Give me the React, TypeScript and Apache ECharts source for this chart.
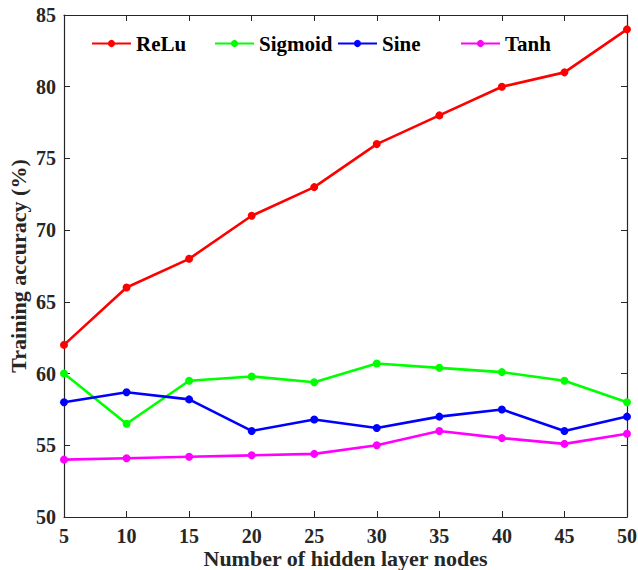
import React, { useEffect, useRef } from "react";
import * as echarts from "echarts";

const nodes = [5, 10, 15, 20, 25, 30, 35, 40, 45, 50];
const relu = [62, 66, 68, 71, 73, 76, 78, 80, 81, 84];
const sigmoid = [60, 56.5, 59.5, 59.8, 59.4, 60.7, 60.4, 60.1, 59.5, 58];
const sine = [58, 58.7, 58.2, 56, 56.8, 56.2, 57, 57.5, 56, 57];
const tanh = [54, 54.1, 54.2, 54.3, 54.4, 55, 56, 55.5, 55.1, 55.8];

const seriesNames = ["ReLu", "Sigmoid", "Sine", "Tanh"];
const seriesData = [relu, sigmoid, sine, tanh];
const seriesColors = ["#ff0000", "#00ff00", "#0000ff", "#ff00ff"];
const legendLefts = [86, 209, 332, 455];

const FONT = "'Liberation Serif', 'Times New Roman', serif";
const AX = "#262626";

export default function App() {
  const ref = useRef<HTMLDivElement>(null);
  useEffect(() => {
    document.body.style.margin = "0";
    if (!ref.current) return;
    const chart = echarts.init(ref.current, undefined, { renderer: "svg" });
    const axisCommon = {
      axisLine: { show: true, onZero: false, lineStyle: { color: AX, width: 1.2 } },
      axisTick: { show: true, inside: true, length: 6, lineStyle: { color: AX } },
      splitLine: { show: false },
    };
    chart.setOption({
      animation: false,
      backgroundColor: "#ffffff",
      grid: { left: 64, right: 11, top: 15, bottom: 53, containLabel: false, outerBoundsMode: "none" },
      legend: seriesNames.map((n, i) => ({
        data: [n],
        left: legendLefts[i],
        top: 28,
        itemWidth: 39,
        itemHeight: 9,
        itemGap: 3,
        textStyle: { fontFamily: FONT, fontWeight: "bold", fontSize: 21, color: "#000" },
      })),
      xAxis: [
        {
          type: "value",
          min: 5,
          max: 50,
          interval: 5,
          ...axisCommon,
          axisLabel: { fontFamily: FONT, fontWeight: "bold", fontSize: 20, color: AX, margin: 9 },
          name: "Number of hidden layer nodes",
          nameLocation: "middle",
          nameGap: 30,
          nameMoveOverlap: false,
          nameTextStyle: { fontFamily: FONT, fontWeight: "bold", fontSize: 22, color: AX },
        },
        {
          type: "value",
          position: "top",
          min: 5,
          max: 50,
          interval: 5,
          ...axisCommon,
          axisLabel: { show: false },
        },
      ],
      yAxis: [
        {
          type: "value",
          min: 50,
          max: 85,
          interval: 5,
          ...axisCommon,
          axisLabel: { fontFamily: FONT, fontWeight: "bold", fontSize: 20, color: AX, margin: 8 },
          name: "Training accuracy (%)",
          nameLocation: "middle",
          nameGap: 35,
          nameMoveOverlap: false,
          nameTextStyle: { fontFamily: FONT, fontWeight: "bold", fontSize: 22, color: AX },
        },
        {
          type: "value",
          position: "right",
          min: 50,
          max: 85,
          interval: 5,
          ...axisCommon,
          axisLabel: { show: false },
        },
      ],
      series: seriesNames.map((n, i) => ({
        name: n,
        type: "line",
        data: nodes.map((x, j) => [x, seriesData[i][j]]),
        symbol: "circle",
        symbolSize: 8,
        lineStyle: { color: seriesColors[i], width: 2.6 },
        itemStyle: { color: seriesColors[i] },
      })),
    });
    return () => chart.dispose();
  }, []);
  return <div ref={ref} style={{ width: 638, height: 570 }} />;
}
